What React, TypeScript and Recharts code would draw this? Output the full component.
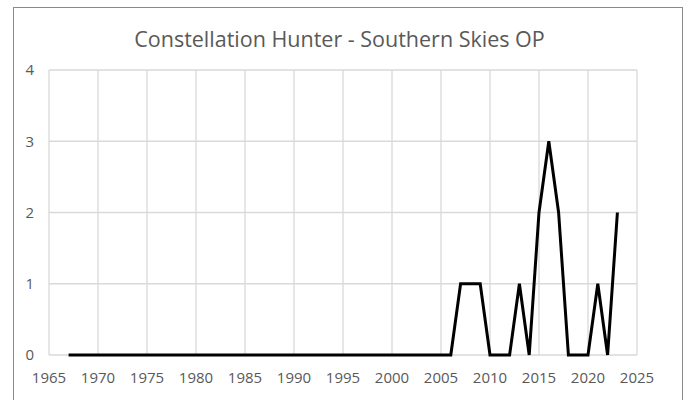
import React from "react";
import { LineChart, Line, XAxis, YAxis, CartesianGrid } from "recharts";

const years = [1967,1968,1969,1970,1971,1972,1973,1974,1975,1976,1977,1978,1979,1980,1981,1982,1983,1984,1985,1986,1987,1988,1989,1990,1991,1992,1993,1994,1995,1996,1997,1998,1999,2000,2001,2002,2003,2004,2005,2006,2007,2008,2009,2010,2011,2012,2013,2014,2015,2016,2017,2018,2019,2020,2021,2022,2023];
const counts = [0,0,0,0,0,0,0,0,0,0,0,0,0,0,0,0,0,0,0,0,0,0,0,0,0,0,0,0,0,0,0,0,0,0,0,0,0,0,0,0,1,1,1,0,0,0,1,0,2,3,2,0,0,0,1,0,2];
const xTicks = [1965,1970,1975,1980,1985,1990,1995,2000,2005,2010,2015,2020,2025];
const yTicks = [0,1,2,3,4];
const title = "Constellation Hunter - Southern Skies OP";

const data = years.map((y, i) => ({ year: y, value: counts[i] }));

const FONT = "'Open Sans', 'Noto Sans', sans-serif";
const TXT = "#595959";
const GRID = "#d9d9d9";

export default function App() {
  return (
    <div style={{ position: "absolute", left: 0, top: 0, width: 688, height: 400, overflow: "hidden", background: "#fff" }}>
      <div style={{ position: "absolute", left: 13, top: 7, width: 670, height: 420, border: "1.5px solid #8a8a8a", boxSizing: "border-box" }} />
      <div style={{ position: "absolute", left: 0, top: 24, width: 679, textAlign: "center", fontFamily: FONT, fontSize: 21.5, color: TXT, whiteSpace: "nowrap" }}>
        {title}
      </div>
      <div style={{ position: "absolute", left: 0, top: 0 }}>
        <LineChart width={688} height={400} data={data} margin={{ top: 70, right: 51, left: 0, bottom: 0 }}>
          <CartesianGrid stroke={GRID} strokeWidth={1.3} />
          <XAxis
            dataKey="year"
            type="number"
            domain={[1965, 2025]}
            ticks={xTicks}
            interval={0}
            height={45}
            tickSize={0}
            tickMargin={17}
            axisLine={false}
            tick={{ fill: TXT, fontSize: 15, fontFamily: FONT }}
          />
          <YAxis
            type="number"
            domain={[0, 4]}
            ticks={yTicks}
            interval={0}
            width={49}
            tickSize={0}
            tickMargin={15}
            axisLine={false}
            tick={{ fill: TXT, fontSize: 15, fontFamily: FONT }}
          />
          <Line
            type="linear"
            dataKey="value"
            stroke="#000"
            strokeWidth={3}
            dot={false}
            isAnimationActive={false}
          />
        </LineChart>
      </div>
    </div>
  );
}
